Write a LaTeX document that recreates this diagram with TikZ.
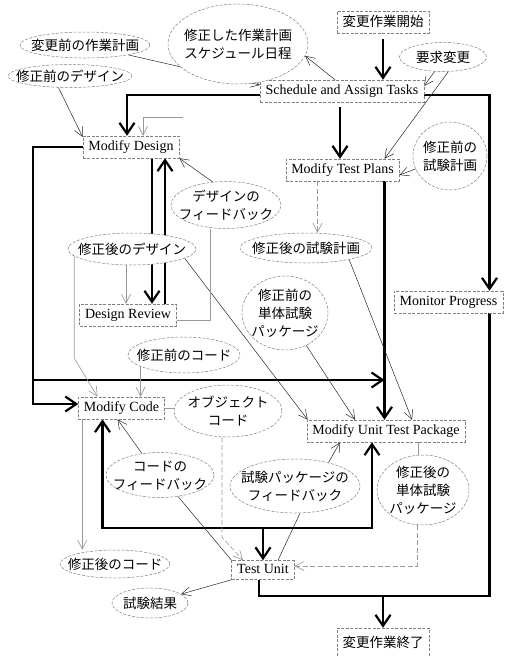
\documentclass[tikz,border=0pt]{standalone}
\usepackage{fontspec}
\setmainfont{Liberation Serif}
\newfontfamily\jp{Noto Sans CJK JP}
\usetikzlibrary{arrows.meta,shapes.geometric,calc}
\pgfdeclarelayer{bg}
\pgfsetlayers{bg,main}
\newcommand\ov[1]{\raisebox{-5pt}[0pt][0pt]{\makebox[0pt]{\begin{tabular}{@{}c@{}}#1\end{tabular}}}}
\begin{document}
\begin{tikzpicture}[x=1pt,y=-1pt,
  box/.style={draw=black!50, dash pattern=on 3pt off 1.5pt, line width=0.5pt, fill=white,
    inner xsep=5.5pt, inner ysep=0pt, minimum height=22pt, text height=10pt, text depth=3pt,
    font=\fontsize{14}{17}\selectfont},
  jbox/.style={box, text height=11.5pt, text depth=2pt, font=\jp\fontsize{13.5}{17}\selectfont},
  oval/.style={ellipse, draw=black!50, dash pattern=on 3pt off 1.5pt, line width=0.5pt,
    fill=white, inner sep=0pt, font=\jp\fontsize{13.5}{18}\selectfont},
  thickline/.style={line width=2.2pt, black},
  thickarrow/.style={thickline, -{Straight Barb[length=11pt,width=15pt]}},
  thinline/.style={line width=0.5pt, black!85},
  thinarrow/.style={thinline, -{Straight Barb[length=9pt,width=9pt,line width=0.5pt]}},
  grayline/.style={line width=0.6pt, black!40},
  grayarrow/.style={grayline, -{Straight Barb[length=9pt,width=9pt,line width=0.6pt]}},
  graydash/.style={grayline, dash pattern=on 5pt off 2.5pt},
]
\useasboundingbox (0,0) rectangle (505,657);

% boxes
\node[jbox, minimum width=86pt] (kickoff) at (383,22) {変更作業開始};
\node[box] (sched) at (342,91) {Schedule and Assign Tasks};
\node[box] (md) at (131,147) {Modify Design};
\node[box] (mtp) at (342.5,170) {Modify Test Plans};
\node[box] (dr) at (128,315) {Design Review};
\node[box] (mp) at (448.5,302) {Monitor Progress};
\node[box] (mc) at (121.5,408) {Modify Code};
\node[box] (mutp) at (386,431) {Modify Unit Test Package};
\node[box, minimum height=19pt] (tu) at (263,570) {Test Unit};
\node[jbox, minimum width=90pt, minimum height=30pt] (finish) at (383,643) {変更作業終了};

% ellipses
\node[oval, minimum width=130pt, minimum height=26pt] (e_oldplan) at (85,45) {\ov{変更前の作業計画}};
\node[oval, minimum width=124pt, minimum height=23pt] (e_olddes) at (70,76) {\ov{修正前のデザイン}};
\node[oval, minimum width=140pt, minimum height=80pt] (e_sched) at (238,44) {\ov{修正した作業計画\\スケジュール日程}};
\node[oval, minimum width=87pt, minimum height=29pt] (e_req) at (443,57) {\ov{要求変更}};
\node[oval, minimum width=74pt, minimum height=68pt] (e_oldtp) at (450,156) {\ov{修正前の\\試験計画}};
\node[oval, minimum width=110pt, minimum height=47pt] (e_fbdes) at (226,205) {\ov{デザインの\\フィードバック}};
\node[oval, minimum width=128pt, minimum height=32pt] (e_newdes) at (132,249) {\ov{修正後のデザイン}};
\node[oval, minimum width=132pt, minimum height=30pt] (e_newtp) at (306,248) {\ov{修正後の試験計画}};
\node[oval, minimum width=86pt, minimum height=74pt] (e_oldutp) at (285,313) {\ov{修正前の\\単体試験\\パッケージ}};
\node[oval, minimum width=112pt, minimum height=36pt] (e_oldcode) at (184,355) {\ov{修正前のコード}};
\node[oval, minimum width=108pt, minimum height=52pt] (e_obj) at (228,411) {\ov{オブジェクト\\コード}};
\node[oval, minimum width=108pt, minimum height=45pt] (e_fbcode) at (160,475) {\ov{コードの\\フィードバック}};
\node[oval, minimum width=130pt, minimum height=54pt] (e_fbtp) at (295,486) {\ov{試験パッケージの\\フィードバック}};
\node[oval, minimum width=92pt, minimum height=70pt] (e_newutp) at (423,490) {\ov{修正後の\\単体試験\\パッケージ}};
\node[oval, minimum width=110pt, minimum height=28pt] (e_newcode) at (115,564) {\ov{修正後のコード}};
\node[oval, minimum width=76pt, minimum height=30pt] (e_result) at (150,603) {\ov{試験結果}};

% helper coordinates
\coordinate (fragA) at (183,117);
\coordinate (xMPn) at ([xshift=41pt]mp.north);
\coordinate (xMPs) at ([xshift=41pt]mp.south);
\coordinate (xTP) at ([xshift=42pt]mtp.south);
\coordinate (jL) at ([xshift=-50pt]md.west |- 0,380);
\coordinate (jB) at ([yshift=32.5pt]tu.north);
\coordinate (jE) at ([yshift=-16.5pt]tu.south -| xMPs);

\begin{pgfonlayer}{bg}
% thick flows
\draw[thickarrow] ([yshift=-4pt]sched.west) -| ([xshift=-4pt]md.north);
\draw[thickarrow, shorten <=6pt] (kickoff.south) -- (kickoff.south |- sched.north);
\draw[thickarrow, shorten <=5pt] ([xshift=-2pt]sched.south) -- ([xshift=-2pt]sched.south |- mtp.north);
\draw[thickarrow] ([yshift=-4pt]sched.east) -| (xMPn);
\draw[thickarrow] (xTP) -- (xTP |- mutp.north);
\draw[thickarrow] (md.west) -- (md.west -| jL) |- ([yshift=4pt]mc.west);
\draw[thickarrow] (jL) -- (jL -| xTP);
\draw[thickarrow] ([xshift=21pt]md.south) -- ([xshift=21pt]md.south |- dr.north);
\draw[thickarrow] ([xshift=34pt]md.south |- dr.north) -- ([xshift=34pt]md.south);
\draw[thickline, {Straight Barb[length=11pt,width=15pt]}-{Straight Barb[length=11pt,width=15pt]}]
  ([xshift=-19pt]mc.south) -- ([xshift=-19pt]mc.south |- jB) -- ([xshift=-14pt]mutp.south |- jB) -- ([xshift=-14pt]mutp.south);
\draw[thickarrow] (jB) -- (jB |- tu.north);
\draw[thickline] ([xshift=-4pt]tu.south) |- (jE) -- (xMPs);
\draw[thickarrow] (finish.north |- jE) -- (finish.north);

% thin dark connectors
\draw[thinarrow] (e_oldplan) -- ([yshift=6pt]sched.west);
\draw[thinarrow] (e_olddes.225) -- ([yshift=10pt]md.west);
\draw[thinarrow] ([xshift=-7pt]sched.north) -- (e_sched.-10);
\draw[thinarrow] (e_req.240) -- ([yshift=5pt]sched.east);
\draw[thinarrow] (e_req.290) -- ([xshift=42pt]mtp.north);
\draw[thinarrow] (e_oldtp) -- ([yshift=-5pt]mtp.east);
\draw[thinarrow] (e_fbdes.120) -- (md.south east);
\draw[thinarrow] (e_fbcode.130) -- ([xshift=-4pt]mc.south);
\draw[thinline] (tu.north west) -- (e_fbcode);
\draw[thinline] ([xshift=15pt]tu.north) -- ([xshift=5pt]e_fbtp.south);
\draw[thinarrow] (e_fbtp.35) -- ([xshift=-46pt]mutp.south);
\draw[thinarrow] (e_oldutp) -- ([xshift=-31pt]mutp.north);
\draw[thinarrow] (e_newtp.-15) -- ([xshift=26pt]mutp.north);
\draw[thinarrow] (e_newdes.-10) -- ([xshift=1pt]mutp.north west);
\draw[thinarrow] (tu.south west) -- (e_result);

% gray connectors
\draw[grayarrow] (fragA) -| ([xshift=12pt]md.north);
\draw[grayarrow, graydash] ([xshift=-25pt]mtp.south) -- ([xshift=-25pt]mtp.south |- e_newtp.north);
\draw[grayline] ([yshift=-5pt]dr.east) -| ([xshift=-16pt]e_fbdes.south);
\draw[grayarrow] ([xshift=-6pt]e_newdes.south) -- ([xshift=-6pt]e_newdes.south |- dr.north);
\draw[grayarrow] (e_newdes.187) -- ++(0,102) -- ([xshift=-24pt]mc.north);
\draw[grayarrow] ([xshift=19pt]mc.north |- e_oldcode.center) -- ([xshift=19pt]mc.north);
\draw[grayline] (mc.east) -- (mc.east -| e_obj.west);
\draw[grayarrow, graydash] ([xshift=-6pt]e_obj.south) -- ++(0,100) -- ([xshift=-20pt]tu.north);
\draw[grayarrow] ([xshift=4pt]mc.south west) -- ([xshift=4pt]mc.south west |- e_newcode.north);
\draw[grayline] ([xshift=32pt]mutp.south) -- ([xshift=32pt]mutp.south |- e_newutp.center);
\draw[grayarrow, graydash] ([xshift=-6pt]e_newutp.south) |- ([yshift=4pt]tu.east);
\end{pgfonlayer}
\end{tikzpicture}
\end{document}
